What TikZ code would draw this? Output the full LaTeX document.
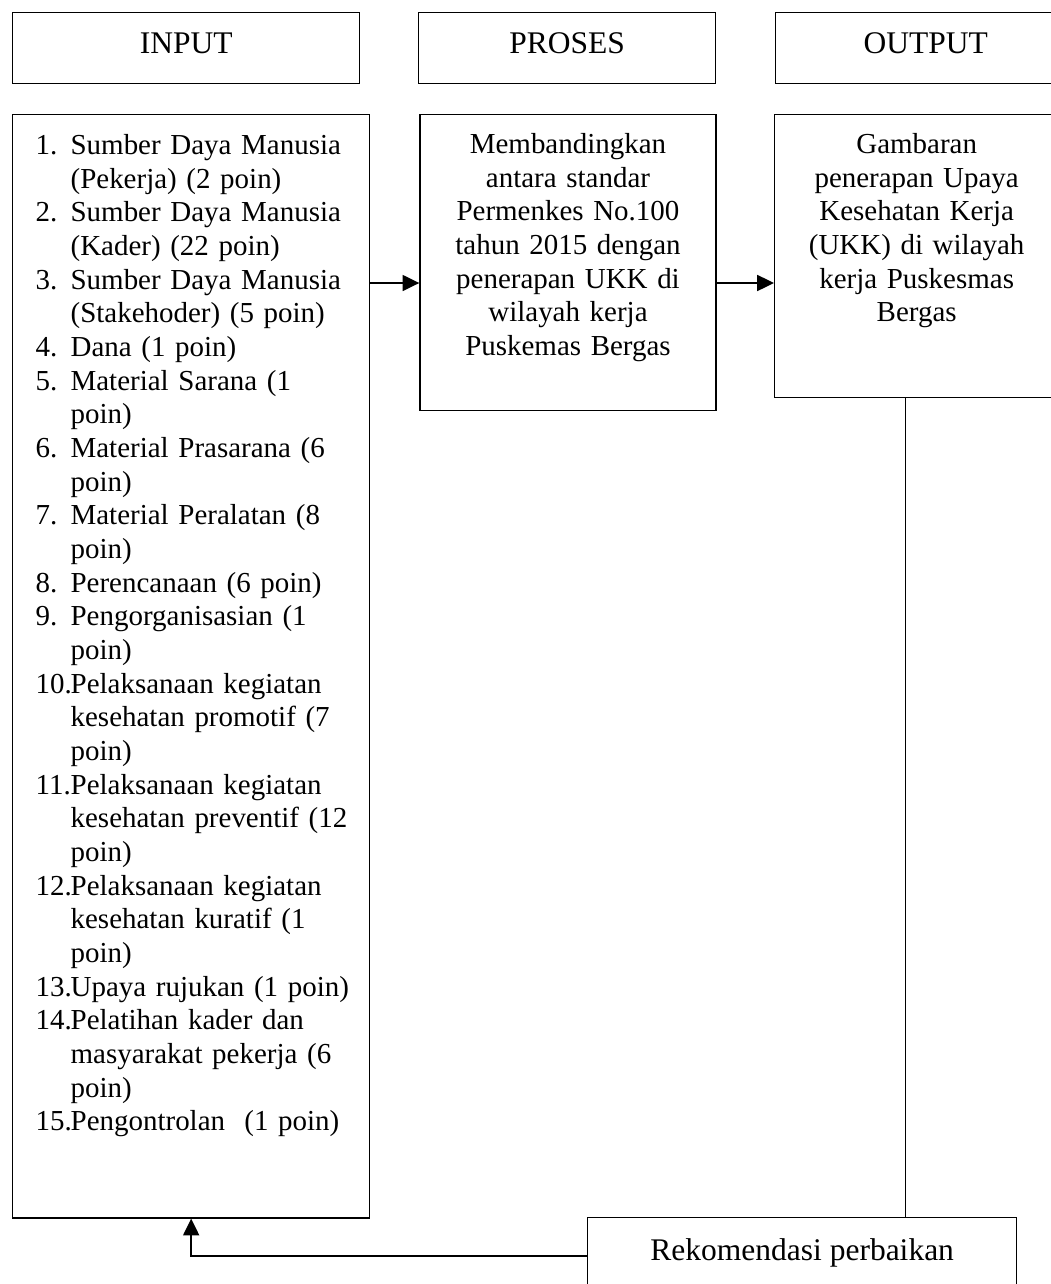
\documentclass[tikz,border=0pt]{standalone}
\usepackage{fontspec}
\setmainfont{Liberation Serif}
\usepackage{tikz}
\usetikzlibrary{positioning,arrows.meta,calc}
\tikzset{
  box/.style={draw=black, line width=0.9pt, inner xsep=0pt, inner ysep=0pt, font=\fontsize{20.6}{23.94}\selectfont},
  headbox/.style={box, anchor=north west, minimum height=1.775cm, text height=1.025cm, text depth=0.75cm, font=\fontsize{22.4}{26}\selectfont},
  arr/.style={-{Triangle[length=0.42cm,width=0.4cm]}, line width=1.2pt},
}
\newcommand{\itm}[2]{\hspace*{0.575cm}\makebox[0.875cm][l]{#1}#2}
\newcommand{\cnt}[1]{\hspace*{1.45cm}#1}

\begin{document}
\begin{tikzpicture}[x=0.025cm, y=-0.025cm]
  \useasboundingbox (0,0) rectangle (1051,1284);
  % header row
  \node[headbox, minimum width=8.675cm] (hin)  at (12,12)  {INPUT};
  \node[headbox, minimum width=7.425cm] (hpr)  at (418,12) {PROSES};
  \node[headbox, minimum width=7.5cm]   (hout) at (775,12) {OUTPUT};
  % content row
  \node[box, anchor=north west, text width=8.925cm, align=left, text height=1.0cm, text depth=26.575cm] (in) at (12,114) {%
    \itm{1.}{Sumber Daya Manusia}\\ \cnt{(Pekerja) (2 poin)}\\
    \itm{2.}{Sumber Daya Manusia}\\ \cnt{(Kader) (22 poin)}\\
    \itm{3.}{Sumber Daya Manusia}\\ \cnt{(Stakehoder) (5 poin)}\\
    \itm{4.}{Dana (1 poin)}\\
    \itm{5.}{Material Sarana (1}\\ \cnt{poin)}\\
    \itm{6.}{Material Prasarana (6}\\ \cnt{poin)}\\
    \itm{7.}{Material Peralatan (8}\\ \cnt{poin)}\\
    \itm{8.}{Perencanaan (6 poin)}\\
    \itm{9.}{Pengorganisasian (1}\\ \cnt{poin)}\\
    \itm{10.}{Pelaksanaan kegiatan}\\ \cnt{kesehatan promotif (7}\\ \cnt{poin)}\\
    \itm{11.}{Pelaksanaan kegiatan}\\ \cnt{kesehatan preventif (12}\\ \cnt{poin)}\\
    \itm{12.}{Pelaksanaan kegiatan}\\ \cnt{kesehatan kuratif (1}\\ \cnt{poin)}\\
    \itm{13.}{Upaya rujukan (1 poin)}\\
    \itm{14.}{Pelatihan kader dan}\\ \cnt{masyarakat pekerja (6}\\ \cnt{poin)}\\
    \itm{15.}{Pengontrolan~ (1 poin)}};
  \node[box, anchor=north, text width=7.4cm, align=center, text height=0.975cm, text depth=6.425cm] (pr) at (568,114)
    {Membandingkan\\antara standar\\Permenkes No.100\\tahun 2015 dengan\\penerapan UKK di\\wilayah kerja\\Puskemas Bergas};
  \node[box, anchor=north west, text width=7.1cm, align=center, text height=0.975cm, text depth=6.1cm] (out) at (774,114)
    {Gambaran\\penerapan Upaya\\Kesehatan Kerja\\(UKK) di wilayah\\kerja Puskesmas\\Bergas};
  \node[box, anchor=north west, minimum width=10.725cm, text height=1.075cm, text depth=0.825cm,
    font=\fontsize{22.4}{26}\selectfont] (rek) at (587,1217) {Rekomendasi perbaikan};
  % connectors
  \coordinate (lvl) at (0,283);
  \draw[arr] (in.east |- lvl) -- (pr.west |- lvl);
  \draw[arr] (pr.east |- lvl) -- (out.west |- lvl);
  \draw[line width=0.9pt] ([xshift=-0.275cm]out.south) -- ([xshift=-0.275cm]out.south |- rek.north);
  \draw[arr] (rek.west) -| (in.south);
\end{tikzpicture}
\end{document}
